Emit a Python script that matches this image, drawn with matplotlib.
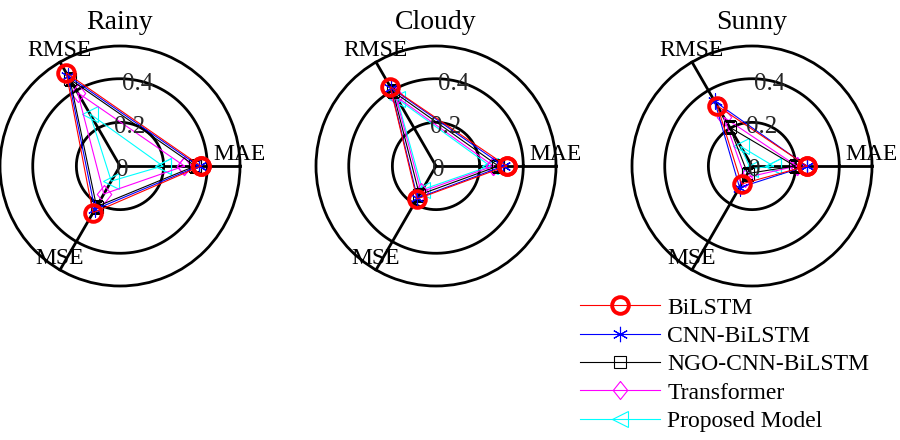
import numpy as np
import matplotlib
matplotlib.use("Agg")
import matplotlib.pyplot as plt
from matplotlib import transforms

plt.rcParams['font.family'] = ['Liberation Serif', 'DejaVu Serif']

metrics = ["MAE", "RMSE", "MSE"]
models = ["BiLSTM", "CNN-BiLSTM", "NGO-CNN-BiLSTM", "Transformer", "Proposed Model"]
scenes = ["Rainy", "Cloudy", "Sunny"]

# values per scene: rows = models, columns = [MAE, RMSE, MSE]
rainy = [
    [0.371, 0.493, 0.248],
    [0.361, 0.477, 0.230],
    [0.345, 0.459, 0.215],
    [0.295, 0.388, 0.148],
    [0.196, 0.276, 0.080],
]
cloudy = [
    [0.324, 0.420, 0.175],
    [0.309, 0.415, 0.170],
    [0.286, 0.395, 0.152],
    [0.263, 0.370, 0.137],
    [0.248, 0.356, 0.125],
]
sunny = [
    [0.252, 0.318, 0.095],
    [0.250, 0.342, 0.114],
    [0.197, 0.205, 0.040],
    [0.205, 0.258, 0.062],
    [0.098, 0.104, 0.015],
]
scene_data = [rainy, cloudy, sunny]

r_ticks = [0, 0.2, 0.4]
r_max = 0.55

colors = ["#ff0000", "#0000ff", "#000000", "#ff00ff", "#00ffff"]
diamond = [(0, 1), (0.8, 0), (0, -1), (-0.8, 0), (0, 1)]
markers = ["o", (6, 2, 0), "s", diamond, "<"]
msizes = [12, 11, 9, 13, 11]
mews = [2.8, 0.8, 0.8, 0.8, 0.8]

angles = np.deg2rad([0, 120, 240])

fig = plt.figure(figsize=(9, 4.4), dpi=100)

centers_x = [120, 436, 752]
cy = 166
rad_px = 120
W, H = 900, 440

label_pos = [(5.5, 120.5), (117.6, 130.5), (236.9, 110)]  # (deg, px from centre)

handles = []
for k, (name, data) in enumerate(zip(scenes, scene_data)):
    cx = centers_x[k]
    ax = fig.add_axes([(cx - rad_px) / W, 1 - (cy + rad_px) / H,
                       2 * rad_px / W, 2 * rad_px / H], projection='polar')
    ax.set_ylim(0, r_max)
    ax.set_yticks([])
    ax.set_xticks([])
    ax.grid(False)
    ax.spines['polar'].set_linewidth(2.0)
    ax.spines['polar'].set_color('black')
    tt = np.linspace(0, 2 * np.pi, 400)
    for rv in r_ticks[1:]:
        ax.plot(tt, np.full_like(tt, rv), color='black', lw=2.0, zorder=1)
    for a in angles:
        ax.plot([a, a], [0, r_max], color='black', lw=2.0, zorder=1, clip_on=False)

    for i, row in enumerate(data):
        vals = list(row) + [row[0]]
        th = list(angles) + [angles[0]]
        h, = ax.plot(th, vals, color=colors[i], lw=0.8, marker=markers[i],
                     markersize=msizes[i], markerfacecolor='none',
                     markeredgecolor=colors[i], markeredgewidth=mews[i],
                     zorder=3 + (5 - i), label=models[i])
        if k == 0:
            handles.append(h)

    off = transforms.offset_copy(ax.transData, fig=fig, x=2, y=-4, units='dots')
    for rv in r_ticks:
        ax.text(np.deg2rad(80), rv, f"{rv:g}", transform=off, ha='center', va='center',
                fontsize=18, color='#262626', zorder=10)

    for m, (deg, px) in zip(metrics, label_pos):
        ax.text(np.deg2rad(deg), px / rad_px * r_max, m, ha='center', va='center',
                fontsize=17, color='black', clip_on=False)

    ax.text(0.5, 1.071, name, transform=ax.transAxes, ha='center', va='baseline',
            fontsize=20, color='black')

leg = fig.legend(handles=handles, loc='upper left', bbox_to_anchor=(580 / W, 1 - 297 / H),
                 frameon=False, fontsize=17, handlelength=3.4, handletextpad=0.3,
                 labelspacing=0.29, borderpad=0, borderaxespad=0)

fig.savefig("out.png", dpi=100)
